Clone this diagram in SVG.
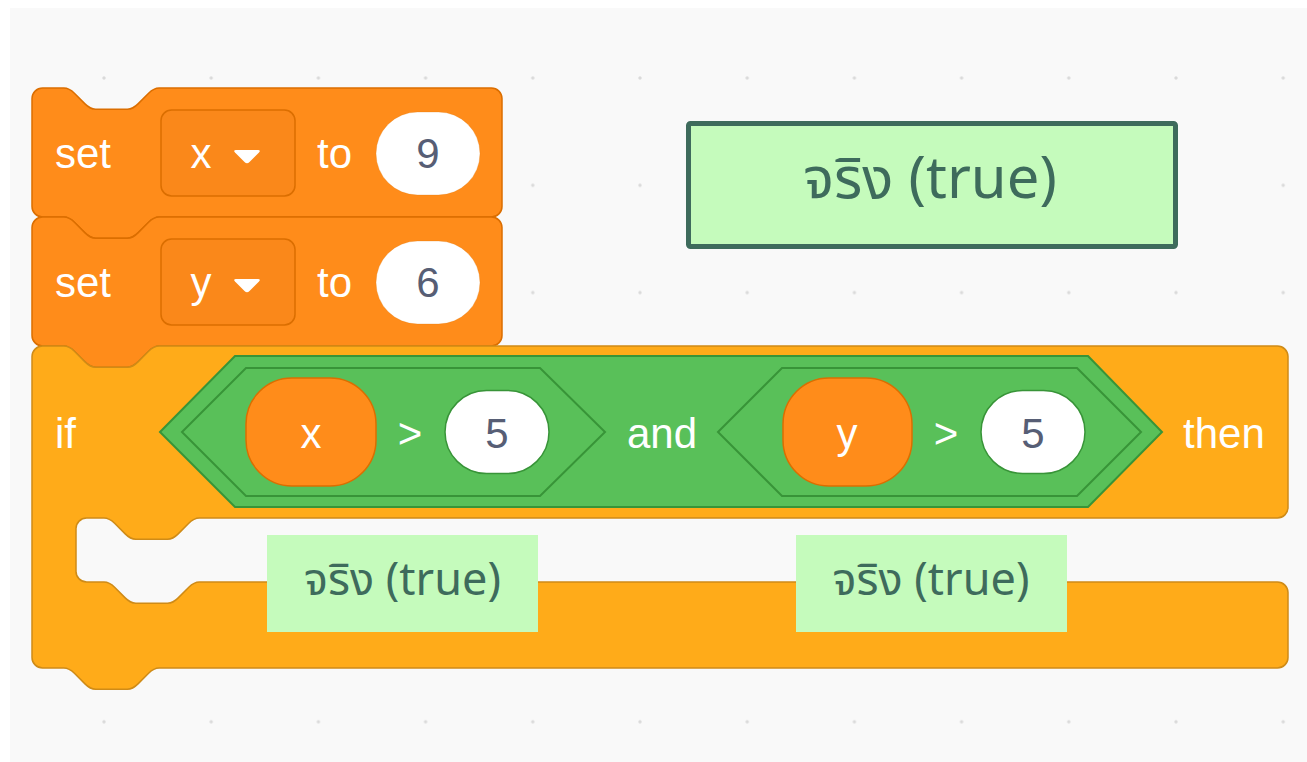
<svg xmlns="http://www.w3.org/2000/svg" width="1307" height="762" viewBox="0 0 1307 762">
<defs>
<pattern id="dots" x="50.4" y="24.35" width="107.2" height="107.3" patternUnits="userSpaceOnUse">
<circle cx="53.6" cy="53.65" r="1.7" fill="#DADADA"/>
</pattern>
<style>
.t{font-family:"Liberation Sans",Arial,sans-serif;font-size:42px;fill:#FFFFFF}
.n{font-family:"Liberation Sans",Arial,sans-serif;font-size:42px;fill:#575E75;text-anchor:middle}
.c{text-anchor:middle}
.data{fill:#FF8C1A;stroke:#DB6E00;stroke-width:1.5}
.dd{fill:#FA881A;stroke:#DB6E00;stroke-width:1.5}
.ctrl{fill:#FFAB19;stroke:#CF8B17;stroke-width:1.5}
.op{fill:#59C059;stroke:#389438;stroke-width:2}
.inp{fill:#FFFFFF;stroke:#DB6E00;stroke-opacity:0.25;stroke-width:1}
.inpg{fill:#FFFFFF;stroke:#389438;stroke-width:1.5}
.lab{fill:#C5FBBC}
.lt{font-family:"Noto Sans Thai","Leelawadee UI","Tahoma","Noto Sans","DejaVu Sans",sans-serif;fill:#3E6B5C;text-anchor:middle}
</style>
</defs>
<rect x="0" y="0" width="1307" height="762" fill="#FFFFFF"/>
<rect x="10" y="8" width="1297" height="754" fill="#F9F9F9"/>
<rect x="10" y="8" width="1297" height="754" fill="url(#dots)"/>

<g id="set-x">
<path class="data" d="M32,98.6 a10.6,10.6 0 0 1 10.6,-10.6 H63.8 c5.3,0 8,2.65 10.6,5.3 l10.6,10.6 c2.65,2.65 5.3,5.3 10.6,5.3 h31.8 c5.3,0 8,-2.65 10.6,-5.3 l10.6,-10.6 c2.650,-2.65 5.3,-5.3 10.6,-5.3 H491.4 a10.6,10.6 0 0 1 10.6,10.6 V206.4 a10.6,10.6 0 0 1 -10.6,10.6 H159.2 c-5.3,0 -8,2.65 -10.6,5.3 l-10.6,10.6 c-2.65,2.65 -5.3,5.3 -10.6,5.3 h-31.8 c-5.3,0 -8,-2.65 -10.6,-5.3 l-10.6,-10.6 c-2.65,-2.65 -5.3,-5.3 -10.6,-5.3 H42.6 a10.6,10.6 0 0 1 -10.6,-10.6 Z"/>
<text class="t" x="55" y="168">set</text>
<rect class="dd" x="161" y="110" width="134" height="86" rx="10.6"/>
<text class="t c" x="201" y="168">x</text>
<path d="M236,150 H258 Q261,150 259,152.5 L249.5,162 Q247,164.5 244.5,162 L235,152.5 Q233,150 236,150 Z" fill="#FFFFFF"/>
<text class="t" x="317" y="168">to</text>
<rect class="inp" x="376" y="112" width="104" height="83" rx="41.5"/>
<text class="n" x="428" y="168">9</text>
</g>

<g id="set-y">
<path class="data" d="M32,227.6 a10.6,10.6 0 0 1 10.6,-10.6 H63.8 c5.3,0 8,2.65 10.6,5.3 l10.6,10.6 c2.65,2.65 5.3,5.3 10.6,5.3 h31.8 c5.3,0 8,-2.65 10.6,-5.3 l10.6,-10.6 c2.65,-2.65 5.3,-5.3 10.6,-5.3 H491.4 a10.6,10.6 0 0 1 10.6,10.6 V335.4 a10.6,10.6 0 0 1 -10.6,10.6 H159.2 c-5.3,0 -8,2.65 -10.6,5.3 l-10.6,10.6 c-2.65,2.65 -5.3,5.3 -10.6,5.3 h-31.8 c-5.3,0 -8,-2.65 -10.6,-5.3 l-10.6,-10.6 c-2.65,-2.65 -5.3,-5.3 -10.6,-5.3 H42.6 a10.6,10.6 0 0 1 -10.6,-10.6 Z"/>
<text class="t" x="55" y="297">set</text>
<rect class="dd" x="161" y="239" width="134" height="86" rx="10.6"/>
<text class="t c" x="201" y="297">y</text>
<path d="M236,279 H258 Q261,279 259,281.5 L249.5,291 Q247,293.5 244.5,291 L235,281.5 Q233,279 236,279 Z" fill="#FFFFFF"/>
<text class="t" x="317" y="297">to</text>
<rect class="inp" x="376" y="241" width="104" height="83" rx="41.5"/>
<text class="n" x="428" y="297">6</text>
</g>

<g id="if-then">
<path class="ctrl" d="M32,356.6 a10.6,10.6 0 0 1 10.6,-10.6 H63.8 c5.3,0 8,2.65 10.6,5.3 l10.6,10.6 c2.65,2.65 5.3,5.3 10.6,5.3 h31.8 c5.3,0 8,-2.65 10.6,-5.3 l10.6,-10.6 c2.65,-2.65 5.3,-5.3 10.6,-5.3 H1277.4 a10.6,10.6 0 0 1 10.6,10.6 V507.4 a10.6,10.6 0 0 1 -10.6,10.6 H199.4 c-5.3,0 -8,2.65 -10.6,5.3 l-10.6,10.6 c-2.65,2.65 -5.3,5.3 -10.6,5.3 h-31.8 c-5.3,0 -8,-2.65 -10.6,-5.3 l-10.6,-10.6 c-2.65,-2.65 -5.3,-5.3 -10.6,-5.3 H86.6 a10.6,10.6 0 0 0 -10.6,10.6 V571.4 a10.6,10.6 0 0 0 10.6,10.6 H104 c5.3,0 8,2.65 10.6,5.3 l10.6,10.6 c2.65,2.65 5.3,5.3 10.6,5.3 h31.8 c5.3,0 8,-2.65 10.6,-5.3 l10.6,-10.6 c2.65,-2.65 5.3,-5.3 10.6,-5.3 H1277.4 a10.6,10.6 0 0 1 10.6,10.6 V657.4 a10.6,10.6 0 0 1 -10.6,10.6 H159.2 c-5.3,0 -8,2.65 -10.6,5.3 l-10.6,10.6 c-2.65,2.65 -5.3,5.3 -10.6,5.3 h-31.8 c-5.3,0 -8,-2.65 -10.6,-5.3 l-10.6,-10.6 c-2.65,-2.65 -5.3,-5.3 -10.6,-5.3 H42.6 a10.6,10.6 0 0 1 -10.6,-10.6 Z"/>
<text class="t" x="55" y="448">if</text>
<text class="t" x="1183" y="448">then</text>
</g>

<g id="and">
<polygon class="op" points="160,432 235,356 1088,356 1162,432 1088,507 235,507"/>
<text class="t c" x="662" y="448">and</text>
</g>

<g id="x-gt-5">
<polygon class="op" points="182,432 246,368 540,368 605,432 540,496 246,496"/>
<rect class="data" x="246" y="378" width="130" height="108" rx="46"/>
<text class="t c" x="311" y="448">x</text>
<text class="t c" x="410" y="448">&gt;</text>
<rect class="inpg" x="445" y="390.5" width="104" height="83" rx="41.5"/>
<text class="n" x="497" y="448">5</text>
</g>

<g id="y-gt-5">
<polygon class="op" points="718,432 782,368 1077,368 1141,432 1077,496 782,496"/>
<rect class="data" x="783" y="378" width="129" height="108" rx="46"/>
<text class="t c" x="847" y="448">y</text>
<text class="t c" x="946" y="448">&gt;</text>
<rect class="inpg" x="981" y="390.5" width="104" height="83" rx="41.5"/>
<text class="n" x="1033" y="448">5</text>
</g>

<g id="label-result">
<rect class="lab" x="688.5" y="123.5" width="487" height="123" rx="2" stroke="#3E6B5C" stroke-width="5"/>
<text class="lt" x="930" y="198" font-size="58">จริง (true)</text>
</g>

<g id="label-x">
<rect class="lab" x="267" y="535" width="271" height="97"/>
<text class="lt" x="402.5" y="595" font-size="45">จริง (true)</text>
</g>

<g id="label-y">
<rect class="lab" x="796" y="535" width="271" height="97"/>
<text class="lt" x="931" y="595" font-size="45">จริง (true)</text>
</g>
</svg>
